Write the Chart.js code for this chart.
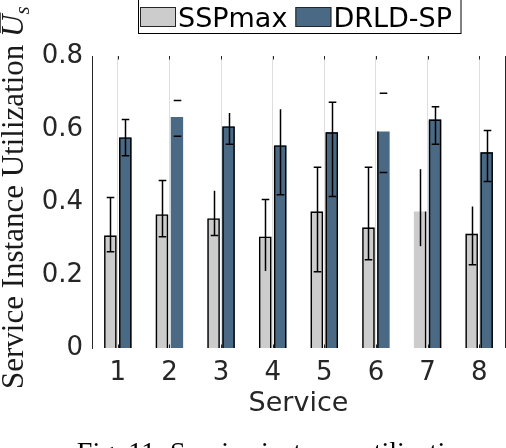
<!DOCTYPE html>
<html>
<head>
<meta charset="utf-8">
<script src="https://cdn.jsdelivr.net/npm/chart.js@4.4.1/dist/chart.umd.min.js"></script>
<style>
  html, body { margin: 0; padding: 0; background: #fff; }
  #wrap { width: 506px; height: 448px; position: relative; }
</style>
</head>
<body>
<div id="wrap"><canvas id="chart-util" width="506" height="448"></canvas></div>
<script>
// data
const services = ["1", "2", "3", "4", "5", "6", "7", "8"];
const sspMax     = [0.308, 0.366, 0.355, 0.305, 0.374, 0.330, 0.374, 0.313];
const sspMaxLow  = [0.264, 0.305, 0.308, 0.211, 0.209, 0.242, 0.279, 0.228];
const sspMaxHigh = [0.412, 0.459, 0.431, 0.407, 0.495, 0.495, 0.490, 0.388];
const drld       = [0.577, 0.633, 0.607, 0.555, 0.591, 0.593, 0.626, 0.536];
const drldLow    = [0.527, 0.580, 0.558, 0.420, 0.415, 0.481, 0.558, 0.456];
const drldHigh   = [0.626, 0.678, 0.644, 0.654, 0.673, 0.698, 0.661, 0.596];
const yTicks = [0, 0.2, 0.4, 0.6, 0.8];

// look of the error bars / bar outlines (the original has a few missing pieces)
const errLook = [
  { stem: [1,1,1,1,1,1,1,1], top: [1,1,0,1,1,1,0,0], bottom: [1,1,1,0,1,1,0,1] },
  { stem: [1,0,1,1,1,0,1,1], top: [1,1,0,0,1,1,1,1], bottom: [1,1,1,1,1,1,1,1] }
];
// which sides of each bar get the black outline: [left, top, right]
const outlines = [
  [[1,1,1],[1,1,1],[1,1,1],[1,1,1],[1,1,1],[1,1,1],[0,0,1],[1,1,1]],
  [[1,1,1],[0,0,0],[1,1,1],[1,1,1],[1,1,1],[1,0,0],[1,1,1],[1,1,1]]
];

const ink = "#262626";
const tickFont = { family: "DejaVu Sans", size: 26 };

const extras = {
  id: "extras",
  afterDatasetsDraw(chart) {
    const ctx = chart.ctx;
    const ys = chart.scales.y, xs = chart.scales.x;
    const area = chart.chartArea;
    const ranges = [[sspMaxLow, sspMaxHigh], [drldLow, drldHigh]];
    ctx.save();
    ctx.strokeStyle = "#000";
    ctx.lineWidth = 1.4;
    // bar outlines
    chart.data.datasets.forEach((ds, di) => {
      chart.getDatasetMeta(di).data.forEach((bar, i) => {
        const p = bar.getProps(["x", "y", "base", "width"], true);
        const l = p.x - p.width / 2 + 0.7, r = p.x + p.width / 2 - 0.7, t = p.y + 0.7;
        const o = outlines[di][i];
        ctx.beginPath();
        if (o[0]) { ctx.moveTo(l, p.base); ctx.lineTo(l, t - 0.7); }
        if (o[1]) { ctx.moveTo(l - 0.7, t); ctx.lineTo(r + 0.7, t); }
        if (o[2]) { ctx.moveTo(r, t - 0.7); ctx.lineTo(r, p.base); }
        ctx.stroke();
      });
    });
    // error bars
    ctx.lineWidth = 1.5;
    ranges.forEach((rg, di) => {
      const meta = chart.getDatasetMeta(di);
      meta.data.forEach((bar, i) => {
        const x = Math.round(bar.x) + 0.5;
        const yl = ys.getPixelForValue(rg[0][i]);
        const yh = ys.getPixelForValue(rg[1][i]);
        const look = errLook[di];
        ctx.beginPath();
        if (look.stem[i]) { ctx.moveTo(x, yl); ctx.lineTo(x, yh); }
        if (look.top[i]) { ctx.moveTo(x - 3.8, yh); ctx.lineTo(x + 3.8, yh); }
        if (look.bottom[i]) { ctx.moveTo(x - 3.8, yl); ctx.lineTo(x + 3.8, yl); }
        ctx.stroke();
      });
    });
    // inward tick marks top & bottom, right box edge
    ctx.strokeStyle = ink;
    ctx.lineWidth = 1;
    ctx.beginPath();
    xs.ticks.forEach((t, i) => {
      const px = Math.round(xs.getPixelForTick(i)) + 0.5;
      ctx.moveTo(px, area.top); ctx.lineTo(px, area.top + 3.5);
      ctx.moveTo(px, area.bottom); ctx.lineTo(px, area.bottom - 3.5);
    });
    ctx.moveTo(area.right + 0.5, area.top);
    ctx.lineTo(area.right + 0.5, area.bottom);
    ctx.stroke();
    ctx.restore();
  },
  afterDraw(chart) {
    const ctx = chart.ctx;
    ctx.save();
    // legend box
    ctx.fillStyle = "#fff";
    ctx.strokeStyle = "#000";
    ctx.lineWidth = 1;
    ctx.fillRect(138, -2, 323, 35);
    ctx.strokeRect(138.5, -2, 322.5, 35.5);
    ctx.font = "27px 'DejaVu Sans'";
    ctx.textBaseline = "alphabetic";
    let lx = 140;
    chart.data.datasets.forEach(ds => {
      ctx.fillStyle = ds.backgroundColor;
      ctx.fillRect(lx, 7, 36, 20);
      ctx.strokeStyle = ink;
      ctx.strokeRect(lx + 0.5, 7.5, 35, 19);
      ctx.fillStyle = "#000";
      ctx.fillText(ds.label, lx + 38, 27);
      lx += 38 + ctx.measureText(ds.label).width + 8;
    });

    // y title (serif, rotated, with \bar{U}_s)
    ctx.fillStyle = "#1a1a1a";
    ctx.strokeStyle = "#1a1a1a";
    ctx.translate(23, 389);
    ctx.rotate(-Math.PI / 2);
    ctx.font = "31px 'Liberation Serif'";
    const head = "Service Instance Utilization ";
    ctx.fillText(head, 0, 0);
    let w = ctx.measureText(head).width;
    ctx.font = "italic 31px 'Liberation Serif'";
    ctx.fillText("U", w, 0);
    const uw = ctx.measureText("U").width;
    ctx.lineWidth = 1.5;
    ctx.beginPath();
    ctx.moveTo(w + 4, -23); ctx.lineTo(w + uw + 2, -23);
    ctx.stroke();
    ctx.font = "italic 21px 'Liberation Serif'";
    ctx.fillText("s", w + uw, 6);
    ctx.restore();

    // caption under the figure
    ctx.save();
    ctx.fillStyle = "#000";
    ctx.font = "28px 'Liberation Serif'";
    ctx.textAlign = "center";
    ctx.textBaseline = "alphabetic";
    ctx.fillText("Fig. 11: Service instance utilization", 275, 461);
    ctx.restore();
  }
};

new Chart(document.getElementById("chart-util"), {
  type: "bar",
  data: {
    labels: services,
    datasets: [
      {
        label: "SSPmax",
        data: sspMax,
        backgroundColor: "#cccccc",
        borderWidth: 0,
        inflateAmount: 0,
        categoryPercentage: 0.58,
        barPercentage: 0.83
      },
      {
        label: "DRLD-SP",
        data: drld,
        backgroundColor: "#4a6984",
        borderWidth: 0,
        inflateAmount: 0,
        categoryPercentage: 0.58,
        barPercentage: 0.83
      }
    ]
  },
  options: {
    responsive: false,
    animation: false,
    layout: { padding: { top: 56, right: 1, left: 0, bottom: 0 } },
    plugins: { legend: { display: false }, tooltip: { enabled: false } },
    scales: {
      x: {
        offset: true,
        grid: { display: true, offset: false, color: "#dedede", lineWidth: 1, drawTicks: false },
        border: { display: false },
        ticks: { padding: 10, color: ink, font: tickFont, maxRotation: 0 },
        title: {
          display: true, text: "Service", color: ink,
          font: { family: "DejaVu Sans", size: 27 },
          padding: { top: 0, bottom: 28 }
        },
        afterFit: s => { s.height = 100; }
      },
      y: {
        min: 0,
        max: 0.8,
        afterBuildTicks: s => { s.ticks = yTicks.map(v => ({ value: v })); },
        grid: { display: false, drawTicks: false },
        border: { display: true, color: ink, width: 1 },
        ticks: { padding: 9, color: ink, font: tickFont },
        afterFit: s => { s.width = 92; }
      }
    }
  },
  plugins: [extras]
});
</script>
</body>
</html>
